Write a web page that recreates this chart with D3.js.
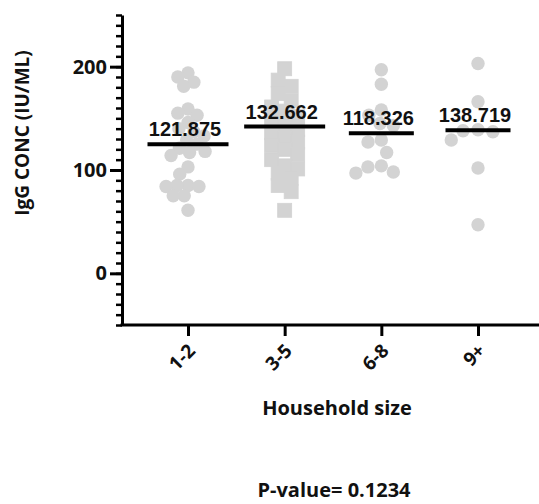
<!DOCTYPE html>
<html><head><meta charset="utf-8">
<script src="https://cdn.jsdelivr.net/npm/d3@7"></script>
<style>body{margin:0;background:#fff}svg{display:block}</style>
</head><body>
<script>
// ---- data ----
const categories = ["1-2", "3-5", "6-8", "9+"];
const group1 = [194, 190, 185, 181, 159, 155, 153, 146, 140, 137, 133, 129, 125, 121, 118, 117, 114, 103, 96, 85, 84, 84, 85, 75, 75, 61];
const group2 = [198, 187, 181, 174, 167, 161, 157, 152, 148, 143, 139, 136, 131, 127, 124, 120, 115, 110, 104, 101, 97, 92, 85, 79, 61];
const group3 = [197, 183, 158, 153, 145, 143, 129, 127, 117, 104, 103, 97, 98];
const group4 = [203, 166, 139, 138, 137, 129, 102, 47];
const lineValues = [125, 142, 135.5, 138.5];
const lineLabels = ["121.875", "132.662", "118.326", "138.719"];
const yTicks = [0, 100, 200];
const yLabel = "IgG CONC (IU/ML)";
const xLabel = "Household size";
const pText = "P-value= 0.1234";

// ---- layout ----
const W = 539, H = 504;
const groups = [group1, group2, group3, group4];
const shapes = ["circle", "square", "circle", "circle"];
const spacing = [11, 13, 13.5, 15];
const lineW = [81, 81, 65, 65];
const grey = "#d3d3d3";
const font = "'Open Sans', sans-serif";

const svg = d3.select("body").append("svg").attr("width", W).attr("height", H);
const y = d3.scaleLinear().domain([-50, 250]).range([325, 15]);
const x = d3.scalePoint().domain(categories).range([188, 478]);
const axisX = 122;

// beeswarm layout (circles)
function swarm(vals, d) {
  const pts = vals.map(v => ({ v, y: y(v) })).sort((a, b) => a.y - b.y);
  const placed = [];
  const ok = (c, p) => placed.every(q => (q.x - c) ** 2 + (q.y - p.y) ** 2 >= d * d - 1e-6);
  for (const p of pts) {
    const c = [0];
    for (const q of placed) {
      const dy = Math.abs(q.y - p.y);
      if (dy < d) { const dx = Math.sqrt(d * d - dy * dy); c.push(q.x + dx, q.x - dx); }
    }
    c.sort((a, b) => Math.abs(a) - Math.abs(b) || a - b);
    p.x = c.find(v => ok(v, p));
    placed.push(p);
  }
  return placed;
}
// binned column layout (squares): points in the same value bin are spread symmetrically
function binned(vals, binSize, step) {
  const bins = d3.group(vals, v => Math.floor((250 - v) / binSize));
  const out = [];
  for (const arr of bins.values()) {
    const s = arr.slice().sort((a, b) => b - a);
    s.forEach((v, k) => out.push({ v, y: y(v), x: (k - (s.length - 1) / 2) * step }));
  }
  return out;
}

const g = svg.append("g");
groups.forEach((vals, i) => {
  const cx = x(categories[i]);
  if (shapes[i] === "square") {
    const pts = binned(vals, 12.5, spacing[i]);
    g.selectAll(null).data(pts).enter().append("rect")
      .attr("x", d => cx + d.x - 7).attr("y", d => d.y - 7)
      .attr("width", 14).attr("height", 14).attr("fill", grey)
      .attr("stroke", grey).attr("stroke-width", 0.8);
  } else {
    const pts = swarm(vals, spacing[i]);
    g.selectAll(null).data(pts).enter().append("circle")
      .attr("cx", d => cx + d.x).attr("cy", d => d.y).attr("r", 6.7).attr("fill", grey);
  }
});

// mean lines and labels
categories.forEach((c, i) => {
  const cx = x(c), ly = y(lineValues[i]);
  svg.append("line").attr("x1", cx - lineW[i] / 2).attr("x2", cx + lineW[i] / 2)
    .attr("y1", ly).attr("y2", ly).attr("stroke", "#000").attr("stroke-width", 4);
  svg.append("text").attr("x", cx - 3).attr("y", ly - 8).attr("text-anchor", "middle")
    .attr("font-family", "'Liberation Sans', Arial, sans-serif").attr("font-weight", "bold")
    .attr("font-size", 20).attr("fill", "#111").text(lineLabels[i]);
});

// y axis
const yMinor = svg.append("g").attr("transform", `translate(${axisX},0)`)
  .call(d3.axisLeft(y).tickValues(d3.range(-50, 251, 10)).tickSize(6).tickFormat(""));
yMinor.select(".domain").remove();
yMinor.selectAll("line").attr("stroke", "#000").attr("stroke-width", 2.5);
const yAx = svg.append("g").attr("transform", `translate(${axisX},0)`)
  .call(d3.axisLeft(y).tickValues(yTicks).tickSize(12).tickPadding(3).tickSizeOuter(0));
yAx.select(".domain").attr("stroke", "#000").attr("stroke-width", 3);
yAx.selectAll("line").attr("stroke", "#000").attr("stroke-width", 3);
yAx.selectAll("text").attr("font-family", font).attr("font-weight", "bold").attr("font-size", 20).attr("fill", "#111");

// x axis
const xAx = svg.append("g").attr("transform", "translate(0,325)")
  .call(d3.axisBottom(x).tickSize(11).tickSizeOuter(0));
xAx.select(".domain").attr("d", `M${axisX - 1.5},0H${W}`).attr("stroke", "#000").attr("stroke-width", 3);
xAx.selectAll("line").attr("stroke", "#000").attr("stroke-width", 3);
xAx.selectAll("text").attr("font-family", font).attr("font-weight", "bold").attr("font-size", 19).attr("fill", "#111")
  .attr("text-anchor", "end").attr("y", 0).attr("dy", 0)
  .attr("transform", "translate(8,27) rotate(-45)");

// titles
svg.append("text").attr("transform", "translate(29,133) rotate(-90)").attr("text-anchor", "middle")
  .attr("font-family", font).attr("font-weight", "bold").attr("font-size", 19).attr("fill", "#111").text(yLabel);
svg.append("text").attr("x", 337).attr("y", 415).attr("text-anchor", "middle")
  .attr("font-family", font).attr("font-weight", "bold").attr("font-size", 20).attr("fill", "#111").text(xLabel);
svg.append("text").attr("x", 334).attr("y", 497).attr("text-anchor", "middle")
  .attr("font-family", font).attr("font-weight", "bold").attr("font-size", 20).attr("fill", "#111").text(pText);
</script>
</body></html>
